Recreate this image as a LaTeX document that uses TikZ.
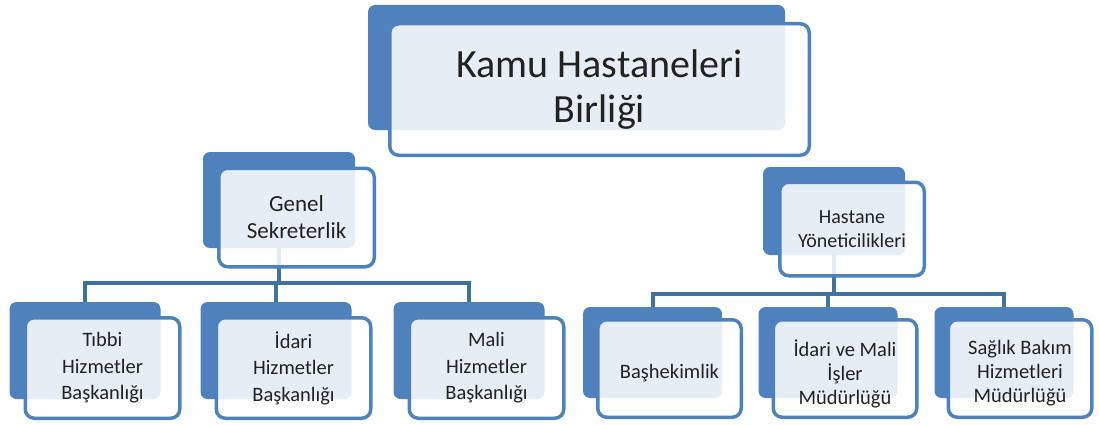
\documentclass[tikz,border=0pt]{standalone}
\usepackage{fontspec}
\setmainfont{Carlito}
\definecolor{boxblue}{HTML}{4F81BD}
\definecolor{linkblue}{HTML}{41719F}
\definecolor{txt}{HTML}{222222}
\pgfdeclarelayer{bg}
\pgfsetlayers{bg,main}
\tikzset{
  back/.style={fill=boxblue, rounded corners=7pt, inner sep=0pt},
  front/.style={draw=boxblue, line width=3.5pt, fill=white, fill opacity=0.86, text opacity=1,
    rounded corners=9pt, inner sep=0pt, align=center, text=txt},
  lowtext/.style={label={[inner sep=0pt, align=center, text=txt, yshift=-5pt,
    font=\fontsize{20.5}{24}\selectfont]center:#1}},
  link/.style={draw=linkblue, line width=4pt},
  big/.style={font=\fontsize{40}{45}\selectfont},
  mid/.style={font=\fontsize{23}{27}\selectfont},
  lsmall/.style={font=\fontsize{20.5}{26.5}\selectfont},
  rsmall/.style={font=\fontsize{20}{24}\selectfont},
}
\begin{document}
\begin{tikzpicture}[x=1pt,y=-1pt]
\useasboundingbox (0,0) rectangle (1099,425);
% top
\node[back, minimum width=417, minimum height=125] (khbB) at (576.5,67.5) {};
\node[front, big, minimum width=419.5, minimum height=131.5] (khb) at (599.5,89.5) {Kamu Hastaneleri\\Birliği};
% level 2
\node[back, minimum width=152, minimum height=96] (gsB) at (279,200) {};
\node[front, mid, minimum width=155.5, minimum height=98.5] (gs) at (296.5,217.5) {Genel\\Sekreterlik};
\node[back, minimum width=142, minimum height=88] (hyB) at (834,211) {};
\node[front, rsmall, minimum width=144.5, minimum height=93.5] (hy) at (852,229) {Hastane\\Yöneticilikleri};
% level 3 left
\node[back, minimum width=151, minimum height=97] (thB) at (85,350.5) {};
\node[front, lsmall, minimum width=154.5, minimum height=100.5] (th) at (102.5,368) {Tıbbi\\Hizmetler\\Başkanlığı};
\node[back, minimum width=151, minimum height=97] (ihB) at (276,350.5) {};
\node[front, lsmall, minimum width=154.5, minimum height=100.5] (ih) at (293.5,368) {İdari\\Hizmetler\\Başkanlığı};
\node[back, minimum width=151, minimum height=97] (mhB) at (469,350.5) {};
\node[front, lsmall, minimum width=154.5, minimum height=100.5] (mh) at (486.5,368) {Mali\\Hizmetler\\Başkanlığı};
% level 3 right
\node[back, minimum width=139, minimum height=91] (bhB) at (652.5,352.5) {};
\node[front, minimum width=143.5, minimum height=97.5, lowtext={Başhekimlik}] (bh) at (669.5,368.5) {};
\node[back, minimum width=139, minimum height=91] (imB) at (828,352.5) {};
\node[front, minimum width=143.5, minimum height=97.5, lowtext={İdari ve Mali\\İşler\\Müdürlüğü}] (im) at (845,368.5) {};
\node[back, minimum width=139, minimum height=91] (sbB) at (1004,352.5) {};
\node[front, minimum width=143.5, minimum height=97.5, lowtext={Sağlık Bakım\\Hizmetleri\\Müdürlüğü}] (sb) at (1020,368.5) {};
% connectors
\coordinate (lbus) at (0,283);
\coordinate (rbus) at (0,294);
\begin{pgfonlayer}{bg}
\draw[link] (gsB.south) -- (gsB.south |- lbus);
\draw[link] (thB.north) -- (thB.north |- lbus) -- (mhB.north |- lbus) -- (mhB.north);
\draw[link] (ihB.north) -- (ihB.north |- lbus);
\draw[link] (hyB.south) -- (hyB.south |- rbus);
\draw[link] (bhB.north) -- (bhB.north |- rbus) -- (sbB.north |- rbus) -- (sbB.north);
\draw[link] (imB.north) -- (imB.north |- rbus);
\end{pgfonlayer}
\end{tikzpicture}
\end{document}
